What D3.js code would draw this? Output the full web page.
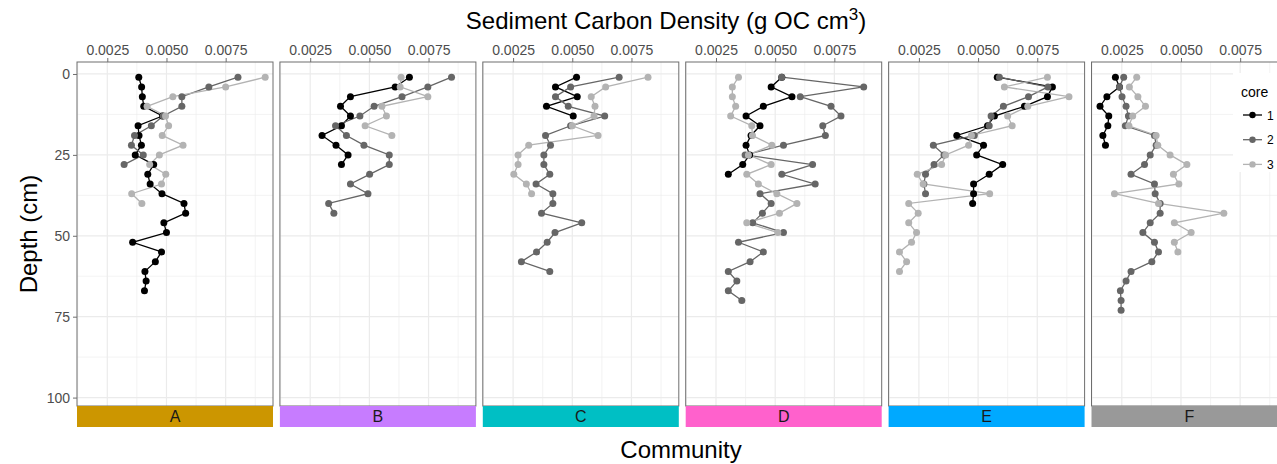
<!DOCTYPE html>
<html><head><meta charset="utf-8">
<script src="https://cdn.jsdelivr.net/npm/d3@7"></script>
<style>
body{margin:0;background:#fff;}
text{font-family:"Liberation Sans",Arial,Helvetica,sans-serif;}
</style>
</head><body>
<svg id="chart" width="1277" height="464"></svg>
<script>
// ---------------- data ----------------
const communities = ["A", "B", "C", "D", "E", "F"];
const stripColors = ["#CC9600", "#C77CFF", "#00BFC4", "#FF61CC", "#00A9FF", "#999999"];
const cores = ["1", "2", "3"];
const coreColors = ["#000000", "#666666", "#B3B3B3"];
const depths = [1, 4, 7, 10, 13, 16, 19, 22, 25, 28, 31, 34, 37, 40, 43, 46, 49, 52, 55, 58, 61, 64, 67, 70, 73];
const xTicks = [0.0025, 0.0050, 0.0075];
const xTickLabels = ["0.0025", "0.0050", "0.0075"];
const xMinor = [0.00125, 0.00375, 0.00625, 0.00875];
const yTicks = [0, 25, 50, 75, 100];
const yMinor = [12.5, 37.5, 62.5, 87.5];

// carbon density per core, listed from the top depth downwards
const A1 = [0.00383, 0.00395, 0.00398, 0.00404, 0.00483, 0.00380, 0.00384, 0.00394, 0.00368, 0.00446, 0.00421, 0.00431, 0.00481, 0.00574, 0.00581, 0.00489, 0.00500, 0.00357, 0.00479, 0.00453, 0.00409, 0.00414, 0.00407];
const A2 = [0.00802, 0.00679, 0.00565, 0.00565, 0.00486, 0.00436, 0.00365, 0.00352, 0.00402, 0.00321];
const A3 = [0.00917, 0.00750, 0.00527, 0.00418, 0.00496, 0.00509, 0.00482, 0.00570, 0.00470, 0.00429, 0.00497, 0.00479, 0.00353, 0.00396];

const B1 = [0.00669, 0.00609, 0.00420, 0.00378, 0.00420, 0.00382, 0.00300, 0.00359, 0.00410, 0.00382];
const B2 = [0.00847, 0.00747, 0.00638, 0.00520, 0.00460, 0.00357, 0.00403, 0.00477, 0.00584, 0.00584, 0.00501, 0.00420, 0.00494, 0.00328, 0.00350];
const B3 = [0.00634, 0.00630, 0.00747, 0.00553, 0.00572, 0.00482, 0.00595];

const C1 = [0.00518, 0.00429, 0.00521, 0.00391, 0.00504];
const C2 = [0.00698, 0.00493, 0.00429, 0.00483, 0.00637, 0.00493, 0.00387, 0.00408, 0.00380, 0.00380, 0.00405, 0.00347, 0.00418, 0.00418, 0.00370, 0.00540, 0.00427, 0.00394, 0.00349, 0.00285, 0.00405];
const C3 = [0.00820, 0.00641, 0.00580, 0.00596, 0.00592, 0.00500, 0.00609, 0.00316, 0.00271, 0.00271, 0.00253, 0.00306, 0.00328];

const D1 = [0.00528, 0.00483, 0.00571, 0.00450, 0.00377, 0.00436, 0.00398, 0.00377, 0.00392, 0.00363, 0.00302];
const D2 = [0.00528, 0.00874, 0.00606, 0.00736, 0.00778, 0.00701, 0.00712, 0.00535, 0.00373, 0.00658, 0.00528, 0.00669, 0.00436, 0.00483, 0.00446, 0.00405, 0.00535, 0.00345, 0.00450, 0.00394, 0.00302, 0.00338, 0.00302, 0.00359];
const D3 = [0.00345, 0.00319, 0.00319, 0.00333, 0.00312, 0.00401, 0.00404, 0.00486, 0.00387, 0.00483, 0.00380, 0.00429, 0.00507, 0.00592, 0.00518, 0.00380, 0.00511];

const E1 = [0.00581, 0.00814, 0.00793, 0.00696, 0.00569, 0.00540, 0.00410, 0.00523, 0.00494, 0.00604, 0.00547, 0.00481, 0.00481, 0.00477];
const E2 = [0.00590, 0.00795, 0.00713, 0.00607, 0.00555, 0.00547, 0.00484, 0.00311, 0.00356, 0.00314, 0.00278, 0.00271, 0.00278];
const E3 = [0.00793, 0.00611, 0.00884, 0.00710, 0.00625, 0.00644, 0.00472, 0.00460, 0.00363, 0.00346, 0.00243, 0.00268, 0.00549, 0.00207, 0.00247, 0.00207, 0.00240, 0.00219, 0.00168, 0.00198, 0.00168];

const F1 = [0.00223, 0.00240, 0.00187, 0.00158, 0.00195, 0.00191, 0.00170, 0.00181];
const F2 = [0.00258, 0.00240, 0.00251, 0.00268, 0.00278, 0.00265, 0.00388, 0.00395, 0.00370, 0.00346, 0.00289, 0.00388, 0.00391, 0.00412, 0.00412, 0.00370, 0.00339, 0.00388, 0.00405, 0.00377, 0.00289, 0.00268, 0.00244, 0.00247, 0.00247];
const F3 = [0.00313, 0.00282, 0.00318, 0.00350, 0.00296, 0.00280, 0.00395, 0.00402, 0.00454, 0.00525, 0.00468, 0.00491, 0.00219, 0.00405, 0.00681, 0.00472, 0.00543, 0.00472, 0.00487];

const seriesByCommunity = {
  A: [A1, A2, A3], B: [B1, B2, B3], C: [C1, C2, C3],
  D: [D1, D2, D3], E: [E1, E2, E3], F: [F1, F2, F3]
};

// ---------------- layout ----------------
const svg = d3.select("#chart");
const panelLeft0 = 77, panelStep = 202.9, panelW = 196;
const panelTop = 62, panelBottom = 406, stripH = 21;

const x = d3.scaleLinear().domain([0.00122, 0.0095]).range([0, panelW]);
const y = d3.scaleLinear().domain([-3.7, 102.6]).range([panelTop, panelBottom]);

const gridCol = "#EBEBEB", borderCol = "#6E6E6E", tickTextCol = "#4D4D4D";

communities.forEach((com, i) => {
  const left = panelLeft0 + i * panelStep;
  const g = svg.append("g").attr("transform", `translate(${left},0)`);
  const clipId = "clip" + com;
  g.append("clipPath").attr("id", clipId).append("rect")
    .attr("x", 0).attr("y", panelTop).attr("width", panelW).attr("height", panelBottom - panelTop);
  const inner = g.append("g").attr("clip-path", `url(#${clipId})`);
  inner.append("rect").attr("x", 0).attr("y", panelTop).attr("width", panelW)
    .attr("height", panelBottom - panelTop).attr("fill", "#fff");

  // grid
  inner.selectAll(".xminor").data(xMinor).join("line")
    .attr("x1", d => x(d)).attr("x2", d => x(d)).attr("y1", panelTop).attr("y2", panelBottom)
    .attr("stroke", gridCol).attr("stroke-width", 0.6);
  inner.selectAll(".yminor").data(yMinor).join("line")
    .attr("x1", 0).attr("x2", panelW).attr("y1", d => y(d)).attr("y2", d => y(d))
    .attr("stroke", gridCol).attr("stroke-width", 0.6);
  inner.selectAll(".xmajor").data(xTicks).join("line")
    .attr("x1", d => x(d)).attr("x2", d => x(d)).attr("y1", panelTop).attr("y2", panelBottom)
    .attr("stroke", gridCol).attr("stroke-width", 1.2);
  inner.selectAll(".ymajor").data(yTicks).join("line")
    .attr("x1", 0).attr("x2", panelW).attr("y1", d => y(d)).attr("y2", d => y(d))
    .attr("stroke", gridCol).attr("stroke-width", 1.2);

  // legend background over last panel
  if (i === communities.length - 1) {
    inner.append("rect").attr("x", 1233 - left).attr("y", 73).attr("width", 80).attr("height", 99)
      .attr("fill", "#fff");
  }

  const series = seriesByCommunity[com];
  const line = d3.line().x(d => x(d.v)).y(d => y(d.d));
  series.forEach((vals, c) => {
    const pts = vals.map((v, k) => ({ v: v, d: depths[k] }));
    inner.append("path").datum(pts).attr("d", line).attr("fill", "none")
      .attr("stroke", coreColors[c]).attr("stroke-width", 1.3);
  });
  series.forEach((vals, c) => {
    const pts = vals.map((v, k) => ({ v: v, d: depths[k] }));
    inner.selectAll(null).data(pts).join("circle")
      .attr("cx", d => x(d.v)).attr("cy", d => y(d.d)).attr("r", 3.5)
      .attr("fill", coreColors[c]);
  });

  // border
  g.append("rect").attr("x", 0).attr("y", panelTop).attr("width", panelW)
    .attr("height", panelBottom - panelTop).attr("fill", "none")
    .attr("stroke", borderCol).attr("stroke-width", 1);

  // top axis
  const ax = g.append("g").attr("transform", `translate(0,${panelTop})`)
    .call(d3.axisTop(x).tickValues(xTicks).tickFormat((d, k) => xTickLabels[k]).tickSize(4).tickPadding(3));
  ax.select(".domain").remove();
  ax.selectAll("line").attr("stroke", borderCol);
  ax.selectAll("text").attr("fill", tickTextCol).attr("font-size", 14)
    .attr("font-family", "'Liberation Sans', Arial, sans-serif");

  // left axis only on first panel
  if (i === 0) {
    const ay = g.append("g").call(d3.axisLeft(y).tickValues(yTicks).tickSize(4).tickPadding(3));
    ay.select(".domain").remove();
    ay.selectAll("line").attr("stroke", borderCol);
    ay.selectAll("text").attr("fill", tickTextCol).attr("font-size", 14)
      .attr("font-family", "'Liberation Sans', Arial, sans-serif");
  }

  // strip
  g.append("rect").attr("x", 0).attr("y", panelBottom).attr("width", panelW).attr("height", stripH)
    .attr("fill", stripColors[i]);
  g.append("text").attr("x", panelW / 2).attr("y", panelBottom + stripH / 2 + 5.5)
    .attr("text-anchor", "middle").attr("font-size", 16).attr("fill", "#1a1a1a").text(com);
});

// titles
const title = svg.append("text").attr("x", 666).attr("y", 29).attr("text-anchor", "middle")
  .attr("font-size", 24).attr("fill", "#000");
title.append("tspan").text("Sediment Carbon Density (g OC cm");
title.append("tspan").attr("font-size", 17).attr("dy", -9).text("3");
title.append("tspan").attr("dy", 9).text(")");

svg.append("text").attr("x", 681).attr("y", 458).attr("text-anchor", "middle")
  .attr("font-size", 24).attr("fill", "#000").text("Community");

svg.append("text").attr("transform", "translate(37,234) rotate(-90)").attr("text-anchor", "middle")
  .attr("font-size", 24).attr("fill", "#000").text("Depth (cm)");

// legend
const lg = svg.append("g");
lg.append("text").attr("x", 1241).attr("y", 97).attr("font-size", 14).attr("fill", "#000").text("core");
cores.forEach((c, k) => {
  const cy = 115 + k * 24.7;
  lg.append("line").attr("x1", 1243).attr("x2", 1262).attr("y1", cy).attr("y2", cy)
    .attr("stroke", coreColors[k]).attr("stroke-width", 1.3);
  lg.append("circle").attr("cx", 1252.5).attr("cy", cy).attr("r", 3.2).attr("fill", coreColors[k]);
  lg.append("text").attr("x", 1267).attr("y", cy + 4.5).attr("font-size", 12).attr("fill", "#000").text(c);
});
</script>
</body></html>
